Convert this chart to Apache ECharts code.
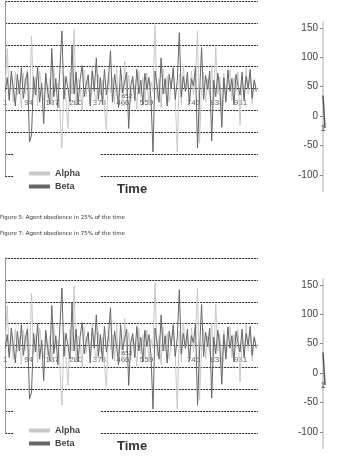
<!DOCTYPE html>
<html>
<head>
<meta charset="utf-8">
<script src="https://cdn.jsdelivr.net/npm/echarts@6/dist/echarts.min.js"></script>
<style>
html, body { margin: 0; padding: 0; background: #fff; }
#chart { width: 345px; height: 467px; }
</style>
</head>
<body>
<div id="chart"></div>
<script>
// values, one point every 8 time steps
var alpha = [45, 113, 20, 62, 15, 70, 28, 55, 5, 68,
	30, 75, 12, 136, 25, 60, 8, 72, 40, 18,
	66, 22, 58, 10, 78, 35, 50, 2, -76, 64,
	20, -33, 70, 30, 149, 12, 58, 45, 0, 74,
	25, 62, 15, 80, 38, 10, 66, 28, 55, 5,
	-36, 70, 32, 60, 12, 78, 20, 48, 8, 90,
	30, 64, 15, 55, 40, 2, 72, 25, 60, 18,
	68, 10, 52, 35, 155, 20, 58, 5, 75, 30,
	62, 15, 48, 70, 22, -76, 66, 10, 82, 35,
	55, 8, 72, 28, 60, 145, -60, 40, 70, 15,
	58, 25, 80, 12, 115, 30, 62, 0, 68, 20,
	50, 75, 18, 60, 35, 70, -27, 55, 22, 78,
	30, 65, 12, 58, 40];
var beta = [35, 60, 18, 72, 40, 8, 66, 30, 78, 22,
	55, 70, -58, -45, 62, 28, 80, 15, 50, -24,
	68, 35, 12, 113, 25, 58, 5, 74, 145, 20,
	62, 40, 15, 118, 30, 70, 10, 56, 82, 25,
	48, 65, 8, 72, 35, 96, 20, 60, 12, 75,
	28, 58, 109, 15, 66, 40, 5, 78, 32, 52,
	70, -33, 45, 62, 18, 75, 30, 55, 10, 68,
	38, 60, 22, -76, 72, 45, 15, 96, 30, 58,
	8, 66, 40, 78, 20, 55, 142, 25, 62, 35,
	70, 12, 58, 45, 80, -69, 30, 115, 20, 64,
	38, 72, -56, 55, 25, 68, 40, -31, 60, 15,
	74, 35, 58, 10, 66, 45, 28, 70, 18, 62,
	40, 75, 22, 55, 35];
var timeStep = 8;
var timeTicks = [1, 94, 187, 280, 373, 466, 559, 652, 745, 838, 931];
var sideTicks = [-100, -50, 0, 50, 100, 150];
var sideCats = ['1', '2', '3'];
var sideVals = [35, 8, -20];
var captions = ['Figure 5: Agent obedience in 25% of the time',
	'Figure 7: Agent obedience in 75% of the time'];

var font = 'Liberation Sans';
var chart = echarts.init(document.getElementById('chart'));

function pairs(vals) {
	return vals.map(function(v, i) { return [1 + i * timeStep, v]; });
}

var option = {
	animation: false,
	color: ['#c8c8c8', '#666666'],
	textStyle: { fontFamily: font },
	grid: [],
	xAxis: [],
	yAxis: [],
	series: [],
	legend: [],
	title: [],
	graphic: []
};

[0, 257].forEach(function(dy, k) {
	var g = k * 2;
	option.grid.push({ left: 3, top: 1 + dy, width: 255, height: 175 });
	option.grid.push({ left: 323, top: 22 + dy, width: 2, height: 169.5 });

	// time axis sits on the zero line of the main chart
	option.xAxis.push({
		type: 'value', gridIndex: g, min: 1, max: 1000, offset: -66,
		axisLine: { show: false, onZero: false },
		axisTick: { show: false },
		splitLine: { show: false },
		axisLabel: {
			inside: true, margin: 3, fontSize: 8, color: '#666',
			customValues: timeTicks,
			formatter: function(v) { return v === 652 ? '' : v; }
		}
	});
	option.yAxis.push({
		type: 'value', gridIndex: g, min: -120, max: 200, interval: 40,
		axisLine: { show: true, lineStyle: { color: '#999' } },
		axisTick: { show: false },
		axisLabel: { show: false },
		splitLine: { show: true, lineStyle: { color: '#222', type: [2, 1], width: 1 } }
	});
	option.xAxis.push({
		type: 'category', gridIndex: g + 1, data: sideCats, boundaryGap: false,
		offset: -75.5,
		axisLine: { show: false, onZero: false },
		axisTick: { show: false },
		axisLabel: { fontSize: 9, color: '#555', margin: 8,
			interval: function(i) { return i === 0; } }
	});
	option.yAxis.push({
		type: 'value', gridIndex: g + 1, min: -128, max: 160,
		axisLine: { show: true, lineStyle: { color: '#c8c8c8', width: 1.5 } },
		axisTick: { show: true, length: 3, customValues: sideTicks, lineStyle: { color: '#888' } },
		axisLabel: { fontSize: 10, color: '#444', margin: 5, customValues: sideTicks },
		splitLine: { show: false }
	});

	option.series.push({
		name: 'Alpha', type: 'line', xAxisIndex: g, yAxisIndex: g,
		data: pairs(alpha), showSymbol: false, lineStyle: { width: 1 }
	});
	option.series.push({
		name: 'Beta', type: 'line', xAxisIndex: g, yAxisIndex: g,
		data: pairs(beta), showSymbol: false, lineStyle: { width: 1 }
	});
	option.series.push({
		name: 'side', type: 'line', xAxisIndex: g + 1, yAxisIndex: g + 1,
		data: sideVals, showSymbol: false, color: '#555', lineStyle: { width: 1.5 }
	});

	option.legend.push({
		data: ['Alpha', 'Beta'], orient: 'vertical', left: 14, top: 148 + dy,
		backgroundColor: '#fff', padding: [21, 20, 5, 15],
		itemWidth: 21, itemHeight: 4, itemGap: 4, icon: 'rect',
		textStyle: { fontSize: 9, fontWeight: 'bold', color: '#444' }
	});
	option.title.push({
		text: 'Time', left: 117, top: 183 + dy, padding: 0,
		textStyle: { fontSize: 13, fontWeight: 'bold', color: '#333' }
	});
	option.graphic.push({
		type: 'text', left: 122, top: 93 + dy, z: 10,
		style: { text: '652', fontSize: 6, fill: '#555', fontFamily: font }
	});
});

captions.forEach(function(c, i) {
	option.title.push({
		text: c, left: 0, top: 215 + i * 16, padding: 0,
		textStyle: { fontSize: 5.5, fontWeight: 'normal', color: '#333', fontFamily: 'DejaVu Sans' }
	});
});

chart.setOption(option);
</script>
</body>
</html>
